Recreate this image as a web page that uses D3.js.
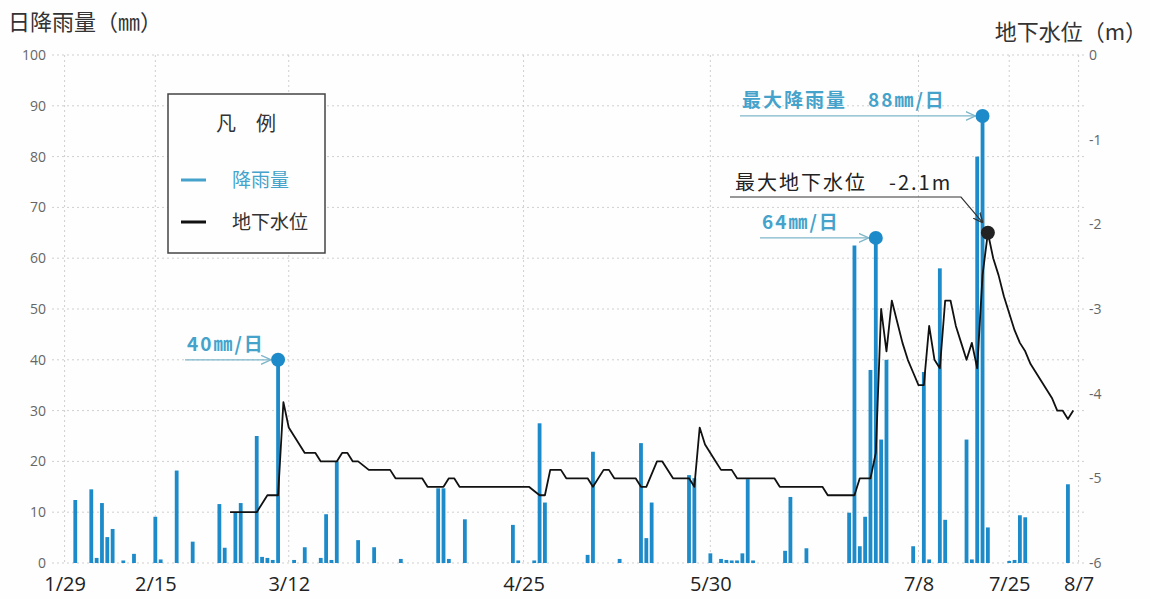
<!DOCTYPE html>
<html>
<head>
<meta charset="utf-8">
<script src="https://cdn.jsdelivr.net/npm/d3@7"></script>
<style>
  body { margin: 0; background: #fefefe; }
  svg { display: block; font-family: "Noto Sans CJK JP", "Noto Sans", sans-serif; }
</style>
</head>
<body>
<svg id="chart" width="1150" height="599"></svg>
<script>
// Daily rainfall (mm)
const rainDates = ["1/31","2/3","2/4","2/5","2/6","2/7","2/9","2/11","2/15","2/16","2/19","2/22","2/27","2/28",
  "3/2","3/3","3/6","3/7","3/8","3/9","3/10","3/13","3/15","3/18","3/19","3/20","3/21","3/25","3/28",
  "4/2","4/9","4/10","4/11","4/14","4/23","4/24","4/27","4/28","4/29",
  "5/7","5/8","5/13","5/17","5/18","5/19","5/26","5/27","5/30",
  "6/1","6/2","6/3","6/4","6/5","6/6","6/7","6/13","6/14","6/17","6/25","6/26","6/27","6/28","6/29","6/30",
  "7/1","7/2","7/7","7/9","7/10","7/12","7/13","7/17","7/18","7/19","7/20","7/21","7/25","7/26","7/27","7/28",
  "8/5"];
const rainValues = [12.4,14.5,1,11.8,5.1,6.7,0.5,1.8,9.1,0.7,18.2,4.2,11.6,3,
  9.9,11.8,25,1.2,1,0.6,40,0.6,3.1,1,9.6,0.6,20,4.5,3.1,
  0.8,14.7,14.7,0.8,8.6,7.5,0.5,0.5,27.5,11.9,
  1.6,21.9,0.8,23.6,4.9,11.9,17.3,16.7,1.9,
  0.8,0.6,0.5,0.5,1.9,16.5,0.5,2.4,13,2.9,9.9,62.5,3.3,9.1,38,64,
  24.3,40,3.3,37.6,0.7,58,8.5,24.3,0.7,80,88,7,0.4,0.6,9.4,9,
  15.5];

// Groundwater level (m)
const gwDates = ["3/1","3/6","3/8","3/10","3/11","3/12","3/13","3/15","3/17","3/18","3/21","3/22","3/23","3/24","3/25","3/27","3/31",
  "4/1","4/6","4/7","4/10","4/11","4/12","4/13","4/26","4/28","4/29","4/30",
  "5/2","5/3","5/7","5/8","5/10","5/11","5/12","5/16","5/17","5/18","5/20","5/21","5/23","5/26","5/27","5/28","5/29","5/30","5/31",
  "6/1","6/3","6/4","6/11","6/12","6/20","6/21","6/26","6/27","6/29","6/30",
  "7/1","7/2","7/3","7/4","7/5","7/6","7/7","7/8","7/9","7/10","7/11","7/12","7/13","7/14","7/15","7/16","7/17","7/18","7/19","7/20",
  "7/21","7/22","7/23","7/24","7/25","7/26","7/27","7/28","7/29","7/30","7/31",
  "8/1","8/2","8/3","8/4","8/5","8/6"];
const gwValues = [-5.4,-5.4,-5.2,-5.2,-4.1,-4.4,-4.5,-4.7,-4.7,-4.8,-4.8,-4.7,-4.7,-4.8,-4.8,-4.9,-4.9,
  -5.0,-5.0,-5.1,-5.1,-5.0,-5.0,-5.1,-5.1,-5.2,-5.2,-4.9,
  -4.9,-5.0,-5.0,-5.1,-4.9,-4.9,-5.0,-5.0,-5.1,-5.1,-4.8,-4.8,-5.0,-5.0,-5.1,-4.4,-4.6,-4.7,-4.8,
  -4.9,-4.9,-5.0,-5.0,-5.1,-5.1,-5.2,-5.2,-5.0,-5.0,-4.7,
  -3.0,-3.5,-2.9,-3.15,-3.4,-3.6,-3.75,-3.9,-3.9,-3.2,-3.6,-3.7,-2.9,-2.9,-3.2,-3.4,-3.6,-3.4,-3.7,-2.6,
  -2.1,-2.4,-2.6,-2.85,-3.05,-3.25,-3.4,-3.5,-3.65,-3.75,-3.85,
  -3.95,-4.05,-4.2,-4.2,-4.3,-4.2];

// Axis ticks
const xTickLabels = ["1/29","2/15","3/12","4/25","5/30","7/8","7/25","8/7"];
const rainTicks = [0,10,20,30,40,50,60,70,80,90,100];
const gwTicks = [0,-1,-2,-3,-4,-5,-6];

// Callouts
const rainNotes = [
  { date: "3/10", value: 40, text: "40㎜/日" },
  { date: "6/30", value: 64, text: "64㎜/日" },
  { date: "7/20", value: 88, text: "最大降雨量　88㎜/日" }
];
const gwNote = { date: "7/21", value: -2.1, text: "最大地下水位　-2.1m" };

const YEAR = 2015;
const parse = s => { const [m, d] = s.split("/").map(Number); return new Date(YEAR, m - 1, d); };

const BLUE = "#1d8bc9";
const TEAL = "#45a3cb";
const ARROW = "#7fb6c9";

const svg = d3.select("#chart");
const plotL = 52, plotR = 1085, plotT = 55, plotB = 563;

const x = d3.scaleTime()
  .domain([parse("1/29"), parse("8/7")])
  .range([64.6, 1078.6]);
const yRain = d3.scaleLinear().domain([0, 100]).range([plotB, plotT]);
const yGw = d3.scaleLinear().domain([-6, 0]).range([plotB, plotT]);

// Grid
const grid = svg.append("g").attr("stroke", "#cfcfcf").attr("stroke-dasharray", "2,3").attr("stroke-width", 1);
grid.selectAll("line.h").data(rainTicks).join("line")
  .attr("x1", plotL).attr("x2", plotR)
  .attr("y1", d => yRain(d)).attr("y2", d => yRain(d));
grid.selectAll("line.v").data(xTickLabels).join("line")
  .attr("x1", d => x(parse(d))).attr("x2", d => x(parse(d)))
  .attr("y1", plotT).attr("y2", plotB);

// Axes (labels only)
const axL = svg.append("g").attr("transform", `translate(${plotL - 6},0)`)
  .call(d3.axisLeft(yRain).tickValues(rainTicks).tickSize(0).tickPadding(0));
const axR = svg.append("g").attr("transform", `translate(${plotR + 4},0)`)
  .call(d3.axisRight(yGw).tickValues(gwTicks).tickSize(0).tickPadding(0).tickFormat(d => String(d)));
const axB = svg.append("g").attr("transform", `translate(0,${plotB + 14})`)
  .call(d3.axisBottom(x).tickValues(xTickLabels.map(parse)).tickSize(0).tickPadding(0)
    .tickFormat(d => `${d.getMonth() + 1}/${d.getDate()}`));
[axL, axR, axB].forEach(a => a.select(".domain").remove());
axL.selectAll("text").attr("font-size", 14).attr("fill", "#666").attr("font-family", "Open Sans, sans-serif");
axR.selectAll("text").attr("font-size", 14).attr("fill", "#666").attr("font-family", "Open Sans, sans-serif");
axB.selectAll("text").attr("font-size", 20).attr("fill", "#222").attr("dy", "0.7em")
  .attr("font-family", "Open Sans, sans-serif");

// Axis titles
svg.append("text").attr("x", 8).attr("y", 30).attr("font-size", 22).attr("fill", "#333").text("日降雨量（㎜）");
svg.append("text").attr("x", 1147).attr("y", 40).attr("text-anchor", "end")
  .attr("font-size", 22).attr("fill", "#333").text("地下水位（m）");

// Rain bars
const rain = rainDates.map((d, i) => ({ date: parse(d), value: rainValues[i] }));
svg.append("g").selectAll("rect").data(rain).join("rect")
  .attr("x", d => x(d.date) - 1.9)
  .attr("width", 3.8)
  .attr("y", d => yRain(d.value))
  .attr("height", d => plotB - yRain(d.value))
  .attr("fill", BLUE);

// Groundwater line
const gw = gwDates.map((d, i) => ({ date: parse(d), value: gwValues[i] }));
svg.append("path").datum(gw)
  .attr("fill", "none").attr("stroke", "#111").attr("stroke-width", 1.8).attr("stroke-linejoin", "round")
  .attr("d", d3.line().x(d => x(d.date)).y(d => yGw(d.value)));

// Arrow markers
const defs = svg.append("defs");
[["arrowTeal", ARROW], ["arrowDark", "#333"]].forEach(([id, c]) => {
  defs.append("marker").attr("id", id)
    .attr("viewBox", "0 -5 10 10").attr("refX", 10).attr("refY", 0)
    .attr("markerWidth", 10).attr("markerHeight", 10).attr("markerUnits", "userSpaceOnUse")
    .attr("orient", "auto")
    .append("path").attr("d", "M0,-4.5L10,0L0,4.5").attr("fill", "none").attr("stroke", c).attr("stroke-width", 1.3);
});

// Rain callouts
const noteStart = { "3/10": 185, "6/30": 760, "7/20": 740 };
rainNotes.forEach(n => {
  const cx = x(parse(n.date)), cy = yRain(n.value);
  const x0 = noteStart[n.date];
  svg.append("line").attr("x1", x0).attr("x2", cx - 7).attr("y1", cy).attr("y2", cy)
    .attr("stroke", ARROW).attr("stroke-width", 1.3).attr("marker-end", "url(#arrowTeal)");
  svg.append("circle").attr("cx", cx).attr("cy", cy).attr("r", 7).attr("fill", BLUE);
  svg.append("text").attr("x", x0 + 2).attr("y", cy - 9).attr("font-size", 19).attr("font-weight", "bold")
    .attr("letter-spacing", 2).attr("fill", TEAL).attr("xml:space", "preserve").text(n.text);
});

// Groundwater callout
{
  const cx = x(parse(gwNote.date)), cy = yGw(gwNote.value);
  svg.append("path")
    .attr("d", `M730,197 L961,197 L${cx - 5},${cy - 10}`)
    .attr("fill", "none").attr("stroke", "#333").attr("stroke-width", 1.2).attr("marker-end", "url(#arrowDark)");
  svg.append("circle").attr("cx", cx).attr("cy", cy).attr("r", 7).attr("fill", "#222");
  svg.append("text").attr("x", 735).attr("y", 190).attr("font-size", 20).attr("fill", "#222")
    .attr("letter-spacing", 2).attr("xml:space", "preserve").text(gwNote.text);
}

// Legend
const lg = svg.append("g");
lg.append("rect").attr("x", 168).attr("y", 94).attr("width", 157).attr("height", 159)
  .attr("fill", "#fefefe").attr("stroke", "#444").attr("stroke-width", 1.5);
lg.append("text").attr("x", 246).attr("y", 131).attr("text-anchor", "middle")
  .attr("font-size", 20).attr("fill", "#333").attr("xml:space", "preserve").text("凡　例");
const legendItems = [["降雨量", TEAL, 180], ["地下水位", "#111", 222]];
legendItems.forEach(([label, c, ly]) => {
  lg.append("line").attr("x1", 181).attr("x2", 206).attr("y1", ly).attr("y2", ly)
    .attr("stroke", c).attr("stroke-width", 3);
  lg.append("text").attr("x", 232).attr("y", ly + 7).attr("font-size", 19)
    .attr("fill", c === TEAL ? TEAL : "#333").text(label);
});
</script>
</body>
</html>
